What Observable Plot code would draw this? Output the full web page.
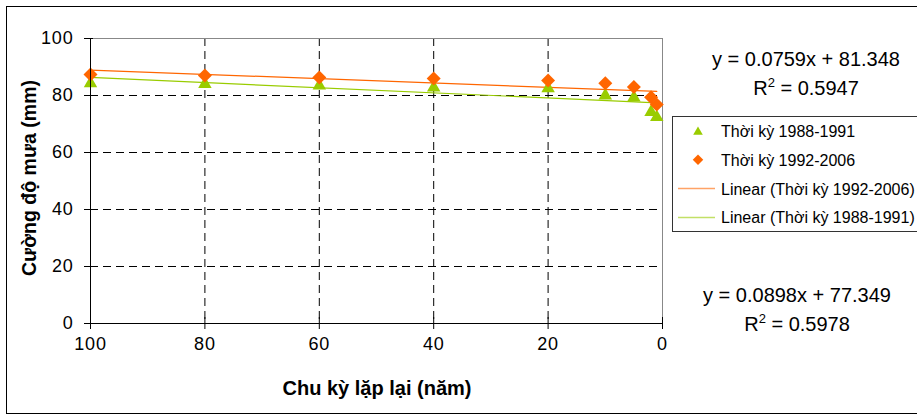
<!DOCTYPE html>
<html><head><meta charset="utf-8">
<script src="https://cdn.jsdelivr.net/npm/d3@7"></script>
<script src="https://cdn.jsdelivr.net/npm/@observablehq/plot@0.6"></script>
<style>body{margin:0;background:#fff} svg{display:block}</style>
</head><body><div id="chart"></div>
<script>
// Return period (years)
const periods = [100, 80, 60, 40, 20, 10, 5, 2, 1];
// Rain intensity (mm)
const rain1988 = [84.3, 84.0, 83.5, 82.8, 82.5, 80.0, 79.3, 74.2, 72.4];
const rain1992 = [87.4, 87.0, 86.3, 86.0, 85.3, 84.3, 83.0, 79.4, 76.8];
// Trend lines as printed on chart
const trendNames = ["Thời kỳ 1992-2006", "Thời kỳ 1988-1991"];
const trendSlopes = [0.0759, 0.0898];
const trendIntercepts = [81.348, 77.349];
const trendR2 = [0.5947, 0.5978];
const trendRange = [100, 1];
const xTicks = [100, 80, 60, 40, 20, 0];
const yTicks = [0, 20, 40, 60, 80, 100];

const ORANGE = "#FF6600", GREEN = "#99CC00";
const pts = periods.map((p, i) => ({p, a: rain1988[i], b: rain1992[i]}));
const trendLine = k => trendRange.map(x => ({x, y: trendSlopes[k] * x + trendIntercepts[k]}));

const font = "'Liberation Sans', Arial, sans-serif";
const plot = Plot.plot({
  width: 917, height: 418,
  marginLeft: 90, marginRight: 255, marginTop: 38, marginBottom: 95,
  style: {fontFamily: font, fontSize: "18px", background: "#fff", color: "#000"},
  x: {domain: [100, 0], ticks: xTicks, label: null},
  y: {domain: [0, 100], ticks: yTicks, label: null},
  marks: [
    Plot.ruleY([20, 40, 60, 80], {stroke: "#000", strokeDasharray: "8,5", strokeWidth: 1}),
    Plot.ruleX([80, 60, 40, 20], {stroke: "#000", strokeDasharray: "8,5", strokeWidth: 1}),
    Plot.ruleY([100], {stroke: "#888"}),
    Plot.ruleX([0], {stroke: "#888"}),
    Plot.line(trendLine(0), {x: "x", y: "y", stroke: ORANGE, strokeWidth: 1.2}),
    Plot.line(trendLine(1), {x: "x", y: "y", stroke: GREEN, strokeWidth: 1.2}),
    Plot.dot(pts, {x: "p", y: "a", symbol: "triangle", fill: GREEN, r: 5}),
    Plot.dot(pts, {x: "p", y: "b", symbol: "diamond2", fill: ORANGE, r: 6.3}),
    Plot.axisX({ticks: xTicks, tickSize: 6, tickPadding: 8, label: null, fontSize: 18}),
    Plot.axisX({ticks: xTicks, tickSize: -6, tickFormat: () => "", label: null}),
    Plot.axisY({ticks: yTicks, tickSize: 6, tickPadding: 11, label: null, fontSize: 18}),
    Plot.axisY({ticks: yTicks, tickSize: -3, tickFormat: () => "", label: null}),
    Plot.ruleX([100], {stroke: "#000"}),
    Plot.ruleY([0], {stroke: "#000"})
  ]
});
document.getElementById("chart").appendChild(plot);

const svg = d3.select(plot);
svg.selectAll("g[aria-label='x-axis tick label'] text, g[aria-label='y-axis tick label'] text")
  .attr("letter-spacing", "0.8px");
svg.insert("rect", ":first-child").attr("x", 6.5).attr("y", 6.5).attr("width", 930).attr("height", 407)
  .attr("fill", "#fff").attr("stroke", "#000");

// Axis titles
svg.append("text").attr("x", 377).attr("y", 395).attr("text-anchor", "middle")
  .attr("font-family", font).attr("font-weight", "bold").attr("font-size", 20).text("Chu kỳ lặp lại (năm)");
svg.append("text").attr("transform", "translate(36,178) rotate(-90)").attr("text-anchor", "middle")
  .attr("font-family", font).attr("font-weight", "bold").attr("font-size", 19.5).text("Cường độ mưa (mm)");

// Equations
const eqPos = [{x: 806, y: 66}, {x: 797, y: 302}];
trendSlopes.forEach((s, k) => {
  const g = svg.append("g").attr("font-family", font).attr("font-size", 20).attr("text-anchor", "middle");
  g.append("text").attr("x", eqPos[k].x).attr("y", eqPos[k].y)
    .text(`y = ${s.toFixed(4)}x + ${trendIntercepts[k].toFixed(3)}`);
  const t = g.append("text").attr("x", eqPos[k].x).attr("y", eqPos[k].y + 29);
  t.append("tspan").text("R");
  t.append("tspan").attr("font-size", 13).attr("dy", -8).text("2");
  t.append("tspan").attr("dy", 8).text(` = ${trendR2[k].toFixed(4)}`);
});

// Legend
const lg = svg.append("g").attr("font-family", font).attr("font-size", 16).attr("text-anchor", "start");
lg.append("rect").attr("x", 672.5).attr("y", 116.5).attr("width", 260).attr("height", 115)
  .attr("fill", "#fff").attr("stroke", "#333");
const items = [
  {label: "Thời kỳ 1988-1991", type: "triangle", color: GREEN},
  {label: "Thời kỳ 1992-2006", type: "diamond", color: ORANGE},
  {label: "Linear (" + trendNames[0] + ")", type: "line", color: ORANGE},
  {label: "Linear (" + trendNames[1] + ")", type: "line", color: GREEN}
];
items.forEach((it, i) => {
  const cy = 131 + i * 28.8;
  if (it.type === "triangle") {
    lg.append("path").attr("d", d3.symbol(d3.symbolTriangle, 40)()).attr("transform", `translate(698,${cy + 1})`).attr("fill", it.color);
  } else if (it.type === "diamond") {
    lg.append("path").attr("d", d3.symbol(d3.symbolDiamond2, 70)()).attr("transform", `translate(698,${cy})`).attr("fill", it.color);
  } else {
    lg.append("line").attr("x1", 678).attr("x2", 715).attr("y1", cy).attr("y2", cy)
      .attr("stroke", it.color).attr("stroke-opacity", 0.6).attr("stroke-width", 1.5);
  }
  lg.append("text").attr("x", 721).attr("y", cy + 6).text(it.label);
});
</script></body></html>
